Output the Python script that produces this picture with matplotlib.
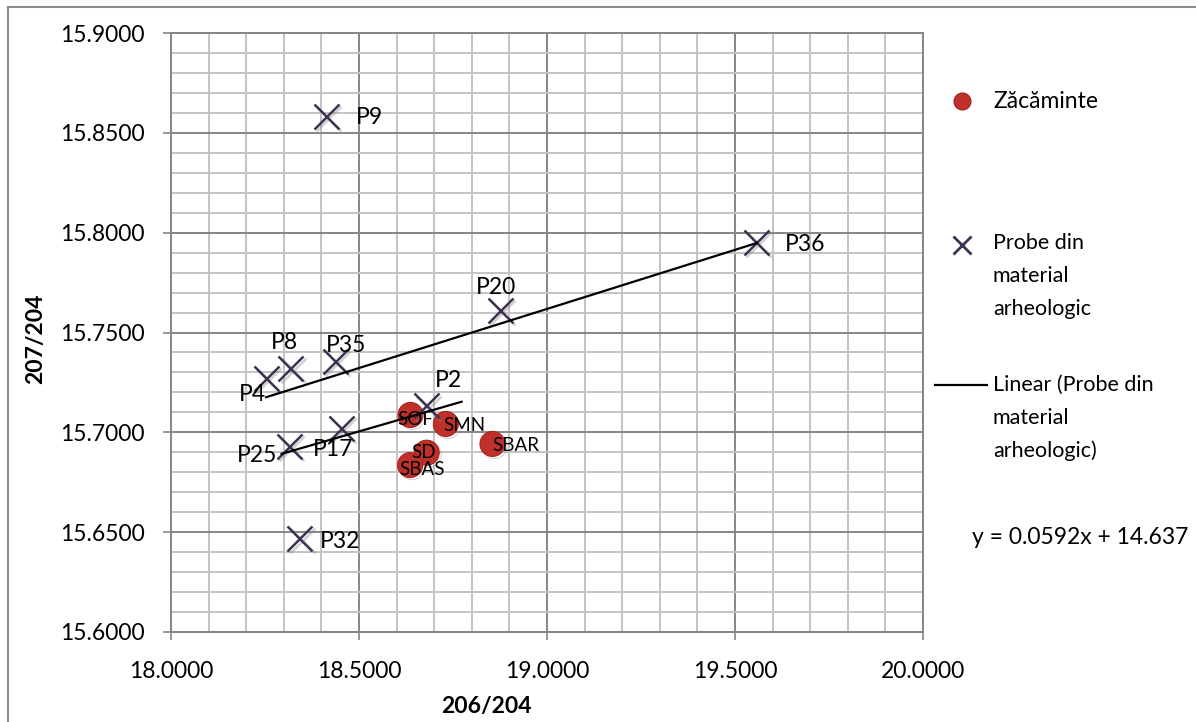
import numpy as np
import matplotlib
matplotlib.use('Agg')
import matplotlib.pyplot as plt
from matplotlib.lines import Line2D
from matplotlib.patches import Rectangle
import matplotlib.patheffects as pe

# data
probe_names = ['P9', 'P36', 'P20', 'P8', 'P35', 'P4', 'P2', 'P17', 'P25', 'P32']
probe_x = [18.414, 19.558, 18.876, 18.319, 18.438, 18.253, 18.680, 18.454, 18.316, 18.343]
probe_y = [15.858, 15.795, 15.7612, 15.7321, 15.7354, 15.7271, 15.7132, 15.7020, 15.6928, 15.6469]

deposit_names = ['SOF', 'SMN', 'SBAR', 'SD', 'SBAS']
deposit_x = [18.637, 18.731, 18.855, 18.680, 18.636]
deposit_y = [15.7087, 15.7042, 15.6942, 15.6898, 15.6836]

# trendline shown in the legend (y = 0.0592x + 14.637)
trend_slope = 0.0592
trend_intercept = 14.637
# second, shorter trendline drawn in the picture
trend2_slope = 0.0545
trend2_intercept = 14.6922
trend2_xrange = [18.294, 18.773]

# label offsets in pixels (dx, dy, ha)
probe_offsets = [(29, -1, 'left'), (28, -2, 'left'), (-4, 23, 'center'), (-7, 26, 'center'),
                 (10, 16, 'center'), (-14, -16, 'center'), (22, 25, 'center'), (-9, -21, 'center'),
                 (-33, -9, 'center'), (20, -3, 'left')]
deposit_offsets = [(5, -5, 'center'), (-3, -2, 'left'), (0, -2, 'left'), (-3, 0, 'center'), (12, -4, 'center')]

plt.rcParams['font.family'] = ['Lato', 'DejaVu Sans']

W, H = 1196, 722
fig = plt.figure(figsize=(W / 100, H / 100), dpi=100)
ax = fig.add_axes([171 / W, 90 / H, 752 / W, 599 / H])

major_col = '#868686'
minor_col = '#c3c3c3'
x_col = '#3f3151'
red_col = '#c0302b'

ax.set_xlim(18, 20)
ax.set_ylim(15.6, 15.9)
ax.set_xticks(np.arange(18, 20.001, 0.5))
ax.set_xticks(np.arange(18, 20.001, 0.1), minor=True)
ax.set_yticks(np.arange(15.6, 15.9001, 0.05))
ax.set_yticks(np.arange(15.6, 15.9001, 0.01), minor=True)
ax.xaxis.set_major_formatter(matplotlib.ticker.FormatStrFormatter('%.4f'))
ax.yaxis.set_major_formatter(matplotlib.ticker.FormatStrFormatter('%.4f'))
ax.grid(which='minor', color=minor_col, lw=1.4, zorder=0)
ax.grid(which='major', color=major_col, lw=1.4, zorder=0)
ax.set_axisbelow(True)
ax.tick_params(which='minor', length=0)
ax.tick_params(which='major', length=6, width=1.2, color=major_col, labelsize=16.5)
ax.tick_params(axis='x', pad=15)
ax.tick_params(axis='y', pad=13)
for s in ax.spines.values():
    s.set_color(major_col)
    s.set_linewidth(1.4)

shadow = [pe.SimpleLineShadow(offset=(1.5, -1.5), shadow_color='gray', alpha=0.35), pe.Normal()]

ax.plot(deposit_x, deposit_y, 'o', ms=18, color=red_col, mec='#a8231f', mew=0.8,
        zorder=3, path_effects=shadow, label='Zăcăminte')
ax.plot(probe_x, probe_y, 'x', ms=18, mew=1.8, color=x_col, zorder=4,
        path_effects=shadow, label='Probe din material arheologic')

tx = np.array([min(probe_x), max(probe_x)])
ax.plot(tx, trend_slope * tx + trend_intercept, color='black', lw=1.6, zorder=5)
t2 = np.array(trend2_xrange)
ax.plot(t2, trend2_slope * t2 + trend2_intercept, color='black', lw=1.6, zorder=5)

for name, x, y, (dx, dy, ha) in zip(probe_names, probe_x, probe_y, probe_offsets):
    ax.annotate(name, (x, y), xytext=(dx, dy), textcoords='offset pixels',
                ha=ha, va='center', fontsize=16.5, zorder=6)
for name, x, y, (dx, dy, ha) in zip(deposit_names, deposit_x, deposit_y, deposit_offsets):
    ax.annotate(name, (x, y), xytext=(dx, dy), textcoords='offset pixels',
                ha=ha, va='center', fontsize=13.5, zorder=6)

fig.text(486 / W, 1 - 707 / H, '206/204', ha='center', va='center', fontsize=16.5, fontweight='bold')
fig.text(36 / W, 1 - 339 / H, '207/204', ha='center', va='center', fontsize=16.5,
         fontweight='bold', rotation=90)

# legend drawn by hand so that keys line up with the first line of each label
def fy(py):
    return 1 - py / H

fig.add_artist(Line2D([962 / W], [fy(101)], marker='o', ms=12, color=red_col, mec='#a8231f',
                      transform=fig.transFigure))
fig.text(993 / W, fy(101), 'Zăcăminte', va='center', fontsize=16.5)
fig.add_artist(Line2D([962 / W], [fy(245)], marker='x', ms=13, mew=2, color=x_col,
                      transform=fig.transFigure))
for i, line in enumerate(['Probe din', 'material', 'arheologic']):
    fig.text(993 / W, fy(243 + 33 * i), line, va='center', fontsize=15.5)
fig.add_artist(Line2D([935 / W, 987 / W], [fy(385), fy(385)], color='black', lw=1.6,
                      transform=fig.transFigure))
for i, line in enumerate(['Linear (Probe din', 'material', 'arheologic)']):
    fig.text(993 / W, fy(385 + 33 * i), line, va='center', fontsize=15.5)
fig.text(972 / W, fy(537), 'y = %.4fx + %.3f' % (trend_slope, trend_intercept),
         va='center', fontsize=16.5)

# chart area border
fig.add_artist(Rectangle((8 / W, -0.5), 2, 1.5 - 7 / H, transform=fig.transFigure,
                         fill=False, ec='#8c8c8c', lw=1.5))

fig.savefig('out.png', dpi=100)
